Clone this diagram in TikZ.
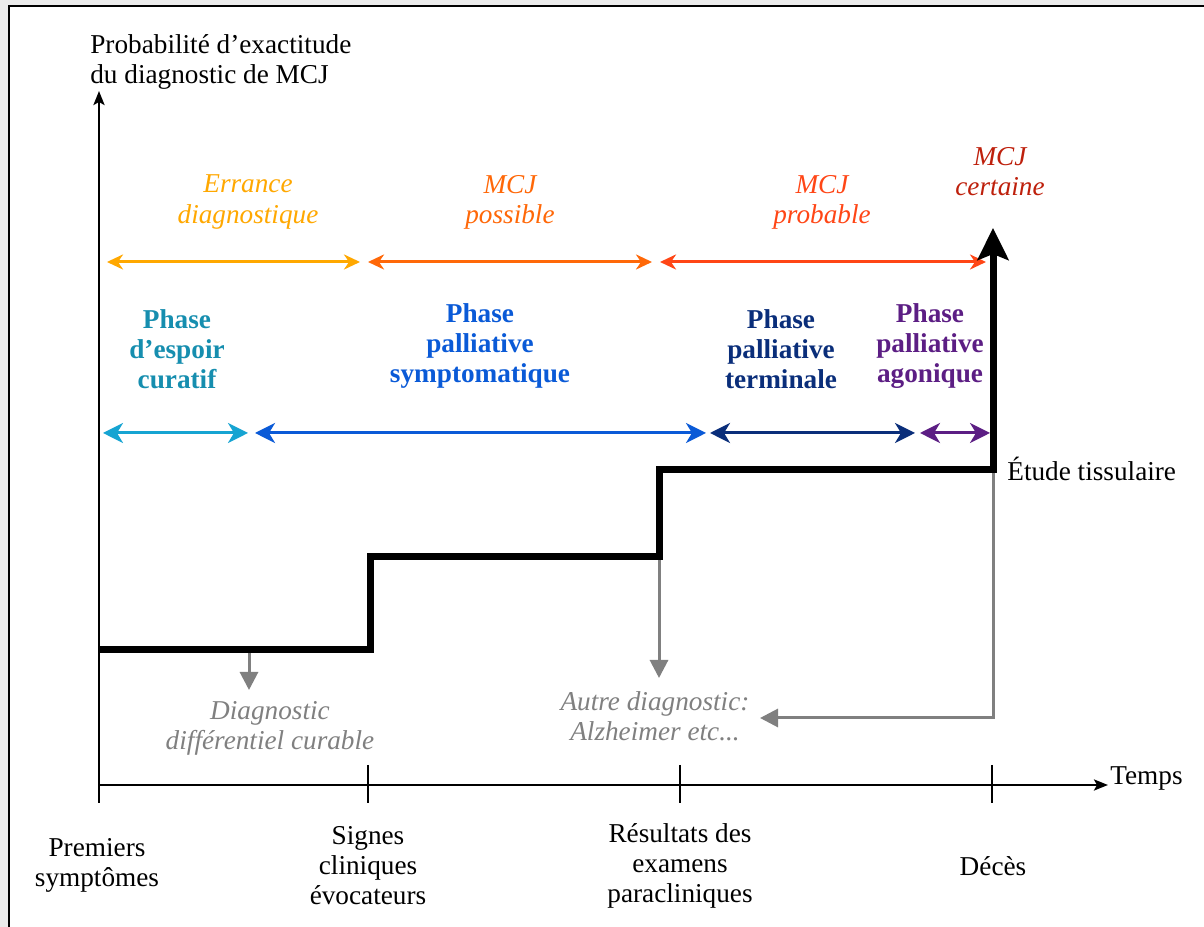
\documentclass[tikz,border=0pt]{standalone}
\usepackage{fontspec}
\setmainfont{Liberation Serif}[ItalicFont={Liberation Serif Italic}, BoldFont={Liberation Serif Bold}]
\usetikzlibrary{arrows.meta}
\definecolor{errance}{RGB}{255,168,0}
\definecolor{possible}{RGB}{255,104,8}
\definecolor{probable}{RGB}{255,70,22}
\definecolor{certaine}{RGB}{190,32,12}
\definecolor{espoir}{RGB}{22,164,210}
\definecolor{espoirtxt}{RGB}{22,142,175}
\definecolor{sympto}{RGB}{10,90,215}
\definecolor{terminal}{RGB}{10,46,122}
\definecolor{agonie}{RGB}{92,30,132}
\definecolor{autre}{RGB}{128,128,128}

\begin{document}
\begin{tikzpicture}[every node/.style={font=\fontsize{15.5}{17.1}\selectfont, align=center, inner sep=0pt},
  mytext/.style={font=\fontsize{15.5}{17.1}\selectfont\itshape},
  phase/.style={font=\fontsize{15.5}{17.1}\selectfont\bfseries},
  axe/.style={line width=0.05cm, -{Stealth[length=0.28cm,width=0.22cm,inset=0.06cm]}},
  span/.style={line width=0.06cm, {Stealth[length=0.32cm,width=0.3cm,inset=0.1cm]}-{Stealth[length=0.32cm,width=0.3cm,inset=0.1cm]}},
  bigspan/.style={line width=0.06cm, {Stealth[length=0.4cm,width=0.4cm,inset=0.12cm]}-{Stealth[length=0.4cm,width=0.4cm,inset=0.12cm]}},
  renvoi/.style={autre, line width=0.06cm, -{Triangle[length=0.36cm,width=0.36cm]}}]
  \useasboundingbox (0,0) rectangle (24.08,18.54);
  \fill[black!8] (0,0) rectangle (24.08,18.54);
  \fill[white] (0.18,0) rectangle (24.08,18.42);
  \draw[line width=0.04cm] (0.18,0) -- (0.18,18.42) -- (24.08,18.42);

  % axes
  \coordinate (o) at (1.98,2.84);
  \coordinate (ytop) at (1.98,16.72);
  \coordinate (xend) at (22.16,2.84);
  \draw[axe] (1.98,2.48) -- (ytop);
  \draw[axe] (o) -- (xend);
  \foreach \x/\n in {7.36/t1, 13.6/t2, 19.84/t3} {
    \coordinate (\n) at (\x,2.84);
    \draw[line width=0.05cm] (\x,3.24) -- (\x,2.48);
  }
  \node[anchor=west,align=left] (ylab) at (1.8,17.3) {Probabilité d’exactitude\\du diagnostic de MCJ};
  \node[anchor=west] (temps) at (22.2,2.98) {Temps};
  \node (premiers) at (1.94,1.24) {Premiers\\symptômes};
  \node (signes) at (7.36,1.22) {Signes\\cliniques\\évocateurs};
  \node (resultats) at (13.6,1.22) {Résultats des\\examens\\paracliniques};
  \node (deces) at (19.86,1.22) {Décès};

  % diagnostic
  \node[mytext,errance] (errance) at (4.96,14.5) {Errance\\diagnostique};
  \node[mytext,possible] (possible) at (10.2,14.5) {MCJ\\possible};
  \node[mytext,probable] (probable) at (16.44,14.5) {MCJ\\probable};
  \node[mytext,certaine] (certaine) at (20.0,15.1) {MCJ\\certaine};
  \draw[span,errance] (2.14,13.3) -- (7.2,13.3);
  \draw[span,possible] (7.36,13.3) -- (13.04,13.3);
  \draw[span,probable] (13.2,13.3) -- (19.72,13.3);

  % phases
  \node[phase,espoirtxt] (espoir) at (3.54,11.56) {Phase\\d’espoir\\curatif};
  \node[phase,sympto] (sympto) at (9.6,11.62) {Phase\\palliative\\symptomatique};
  \node[phase,terminal] (terminal) at (15.62,11.56) {Phase\\palliative\\terminale};
  \node[phase,agonie] (agonie) at (18.6,11.62) {Phase\\palliative\\agonique};
  \draw[bigspan,espoir] (2.06,9.88) -- (4.96,9.88);
  \draw[bigspan,sympto] (5.1,9.88) -- (14.12,9.88);
  \draw[bigspan,terminal] (14.2,9.88) -- (18.3,9.88);
  \draw[bigspan,agonie] (18.4,9.88) -- (19.8,9.88);

  % escalier
  \coordinate (s0) at (1.98,5.54);
  \coordinate (s1) at (7.4,5.54);
  \coordinate (s2) at (7.4,7.4);
  \coordinate (s3) at (13.18,7.4);
  \coordinate (s4) at (13.18,9.14);
  \coordinate (s5) at (19.86,9.14);
  \coordinate (s6) at (19.86,13.98);
  \coordinate (c1) at (4.98,5.54);
  \draw[renvoi] (c1) -- (4.98,4.74);
  \draw[renvoi] (s3) -- (13.18,4.98);
  \draw[renvoi] (s5) -- (19.86,4.18) -- (15.2,4.18);
  \draw[line width=0.14cm, line join=miter, -{Stealth[length=0.64cm,width=0.62cm,inset=0.12cm]}]
    (s0) -- (s1) -- (s2) -- (s3) -- (s4) -- (s5) -- (s6);
  \node[anchor=west] (etude) at (20.14,9.16) {Étude tissulaire};
  \node[mytext,autre] (curable) at (5.4,3.98) {Diagnostic\\différentiel curable};
  \node[mytext,autre] (alzheimer) at (13.1,4.22) {Autre diagnostic:\\Alzheimer etc...};
\end{tikzpicture}
\end{document}
